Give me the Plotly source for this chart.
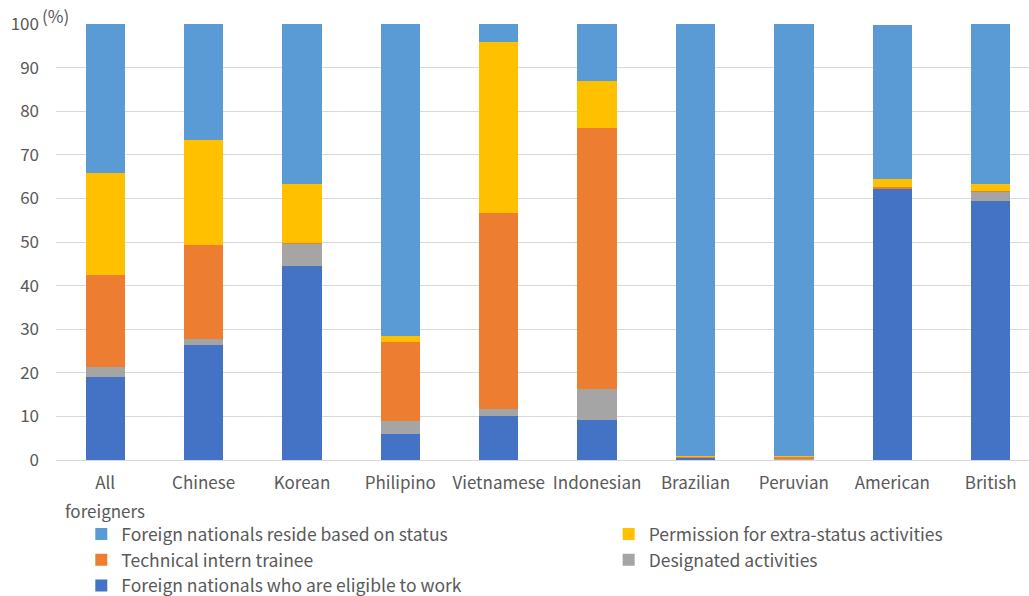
import plotly.graph_objects as go

categories = ["All foreigners", "Chinese", "Korean", "Philipino", "Vietnamese",
              "Indonesian", "Brazilian", "Peruvian", "American", "British"]

eligible_to_work = [19.0, 26.4, 44.6, 6.0, 10.1, 9.2, 0.5, 0.2, 62.2, 59.4]
designated = [2.3, 1.4, 5.0, 3.0, 1.6, 7.1, 0.1, 0.1, 0.1, 2.1]
intern_trainee = [21.1, 21.5, 0.2, 18.1, 45.0, 59.9, 0.1, 0.4, 0.3, 0.2]
extra_status = [23.4, 24.1, 13.6, 1.3, 39.2, 10.7, 0.3, 0.2, 1.8, 1.6]
reside_status = [34.2, 26.6, 36.6, 71.6, 4.1, 13.1, 99.0, 99.1, 35.4, 36.7]

# (name, values, colour, legend column, rank within column)
series = [
    ("Foreign nationals who are eligible to work", eligible_to_work, "#4472C4", "legend", 3),
    ("Designated activities", designated, "#A5A5A5", "legend2", 2),
    ("Technical intern trainee", intern_trainee, "#ED7D31", "legend", 2),
    ("Permission for extra-status activities", extra_status, "#FFC000", "legend2", 1),
    ("Foreign nationals reside based on status", reside_status, "#5B9BD5", "legend", 1),
]

font_family = "Noto Sans CJK JP"
text_color = "#595959"

fig = go.Figure()
for name, vals, color, leg, rank in series:
    fig.add_trace(go.Bar(
        x=categories, y=vals, name=name, legend=leg, legendrank=rank,
        marker=dict(color=color, line=dict(width=0)),
    ))

# first category label is split over two lines: "All" as tick, "foreigners" below
first_words = categories[0].split(" ", 1)
ticktext = [first_words[0]] + categories[1:]

legend_common = dict(
    orientation="v", yref="container", y=0.134, yanchor="top",
    xanchor="left", itemwidth=30, tracegroupgap=0, traceorder="normal",
    font=dict(size=17.5, color=text_color, family=font_family),
    bgcolor="rgba(0,0,0,0)",
)

fig.update_layout(
    barmode="stack",
    bargap=0.6,
    width=1029, height=596,
    margin=dict(l=56, r=0, t=24, b=136),
    plot_bgcolor="white", paper_bgcolor="white",
    font=dict(family=font_family, size=17, color=text_color),
    xaxis=dict(
        tickmode="array", tickvals=categories, ticktext=ticktext,
        range=[-0.5, 9.39],
        showline=True, linecolor="#D9D9D9", linewidth=1,
        ticks="", ticklabelstandoff=8, tickfont=dict(size=17, color=text_color),
    ),
    yaxis=dict(
        range=[0, 100], dtick=10,
        showgrid=True, gridcolor="#D9D9D9", gridwidth=1,
        zeroline=False, ticks="", ticklabelstandoff=16,
        tickfont=dict(size=17, color=text_color),
    ),
    legend=dict(x=0.026, **legend_common),
    legend2=dict(x=0.568, **legend_common),
    showlegend=True,
    annotations=[
        dict(
            text="(%)", xref="paper", yref="paper", x=0, y=1, xshift=-16,
            xanchor="left", yanchor="bottom", showarrow=False, yshift=-6,
            font=dict(size=17, color=text_color),
        ),
        dict(
            text=first_words[1], xref="x", yref="paper", x=categories[0], y=0,
            xanchor="center", yanchor="middle", showarrow=False, yshift=-50,
            font=dict(size=17, color=text_color),
        ),
    ],
)

fig.write_html("out.html")
